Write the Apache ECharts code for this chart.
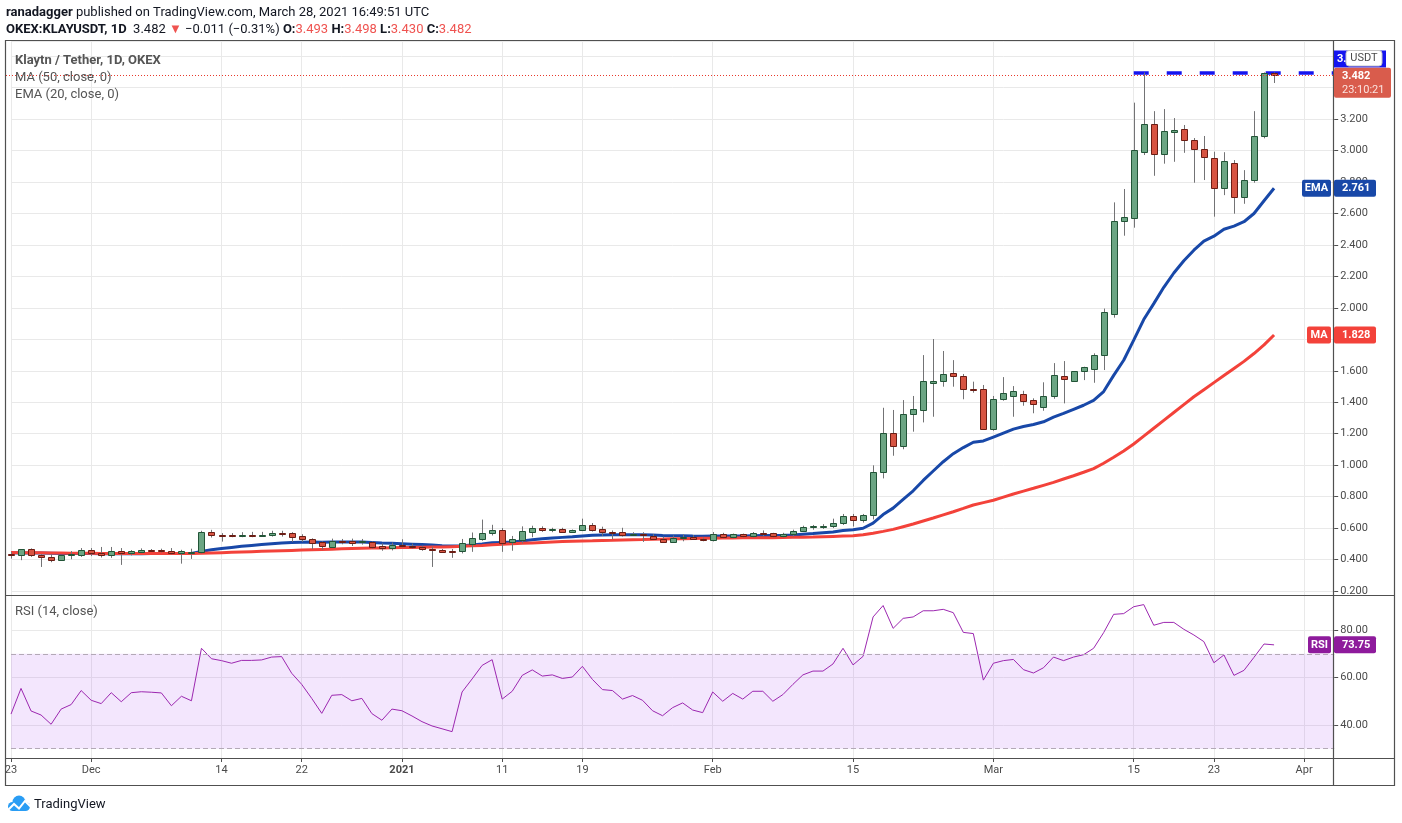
<!DOCTYPE html>
<html>
<head>
<meta charset="utf-8">
<title>KLAYUSDT 1D</title>
<script src="https://cdn.jsdelivr.net/npm/echarts/dist/echarts.min.js"></script>
<style>
  html, body { margin: 0; padding: 0; background: #fff; }
  #chart { width: 1402px; height: 823px; }
</style>
</head>
<body>
<div id="chart"></div>
<script>
// categories: one per day, Nov 23 2020 .. Apr 4 2021 (last candle is Mar 29)
const startDay = Date.UTC(2020, 10, 23);
const dates = [];
for (let i = 0; i < 133; i++) {
  dates.push(new Date(startDay + i * 86400000).toISOString().slice(0, 10));
}

// x axis labels
const tickDates = ['2020-11-23', '2020-12-01', '2020-12-14', '2020-12-22', '2021-01-01', '2021-01-11',
  '2021-01-19', '2021-02-01', '2021-02-15', '2021-03-01', '2021-03-15', '2021-03-23', '2021-04-01'];
const tickLabels = ['23', 'Dec', '14', '22', '2021', '11', '19', 'Feb', '15', 'Mar', '15', '23', 'Apr'];

// daily candles
const open = [
  .434, .426, .465, .428, .419, .398, .426, .430, .458, .441,
  .432, .452, .439, .449, .460, .460, .454, .439, .441, .445,
  .576, .557, .557, .549, .557, .555, .555, .568, .568, .548,
  .529, .512, .482, .516, .516, .512, .510, .484, .471, .490,
  .484, .477, .465, .460, .454, .456, .501, .533, .566, .587,
  .510, .527, .578, .600, .585, .594, .578, .585, .619, .594,
  .574, .574, .557, .563, .548, .531, .514, .535, .544, .531,
  .522, .560, .541, .560, .548, .569, .567, .548, .560, .580,
  .605, .610, .611, .630, .675, .649, .681, .955, 1.202, 1.120,
  1.323, 1.349, 1.520, 1.533, 1.584, 1.565, 1.482, 1.482, 1.228, 1.419,
  1.438, 1.450, 1.412, 1.368, 1.438, 1.565, 1.533, 1.597, 1.609, 1.698,
  1.959, 2.554, 2.573, 2.993, 3.169, 2.976, 3.120, 3.135, 3.065, 3.008,
  2.951, 2.760, 2.919, 2.703, 2.811, 3.091, 3.493
];
const close = [
  .426, .465, .426, .417, .398, .426, .437, .458, .439, .430,
  .452, .439, .452, .458, .454, .452, .439, .452, .450, .574,
  .555, .548, .548, .557, .553, .557, .570, .566, .546, .529,
  .508, .484, .516, .512, .508, .516, .482, .471, .490, .484,
  .477, .465, .458, .449, .445, .505, .535, .570, .587, .508,
  .529, .581, .600, .587, .594, .578, .587, .619, .591, .572,
  .568, .555, .563, .555, .529, .514, .535, .542, .529, .523,
  .560, .541, .560, .548, .567, .565, .548, .560, .580, .605,
  .611, .612, .630, .675, .649, .681, .955, 1.202, 1.120, 1.323,
  1.357, 1.533, 1.533, 1.580, 1.565, 1.482, 1.476, 1.228, 1.419, 1.457,
  1.469, 1.406, 1.387, 1.438, 1.571, 1.546, 1.597, 1.622, 1.698, 1.976,
  2.554, 2.575, 3.002, 3.169, 2.976, 3.124, 3.130, 3.065, 3.008, 2.957,
  2.760, 2.932, 2.703, 2.811, 3.091, 3.493, 3.482
];
const high = [
  .449, .465, .471, .434, .434, .430, .454, .473, .473, .480,
  .480, .473, .460, .471, .467, .469, .473, .462, .469, .583,
  .589, .568, .568, .574, .576, .576, .583, .583, .574, .561,
  .535, .516, .533, .531, .533, .531, .516, .503, .508, .529,
  .501, .488, .482, .467, .467, .531, .572, .654, .621, .600,
  .550, .611, .615, .611, .602, .602, .591, .660, .632, .609,
  .585, .602, .574, .574, .561, .546, .553, .559, .555, .540,
  .575, .570, .565, .565, .575, .585, .570, .570, .590, .615,
  .620, .625, .660, .690, .690, .690, .999, 1.365, 1.351, 1.414,
  1.440, 1.700, 1.802, 1.726, 1.668, 1.580, 1.531, 1.510, 1.440, 1.560,
  1.503, 1.473, 1.425, 1.527, 1.649, 1.662, 1.597, 1.626, 1.711, 1.996,
  2.671, 2.756, 3.305, 3.497, 3.251, 3.264, 3.207, 3.163, 3.080, 3.093,
  2.993, 2.990, 2.940, 2.876, 3.251, 3.497, 3.498
];
const low = [
  .406, .396, .417, .353, .383, .391, .402, .417, .422, .413,
  .411, .366, .426, .443, .449, .445, .432, .374, .404, .439,
  .540, .514, .542, .542, .542, .546, .546, .546, .512, .512,
  .467, .462, .482, .497, .486, .495, .469, .456, .458, .477,
  .469, .456, .353, .443, .411, .439, .449, .520, .553, .449,
  .456, .503, .542, .576, .574, .572, .570, .581, .578, .551,
  .529, .546, .553, .512, .525, .508, .508, .516, .525, .516,
  .515, .535, .535, .540, .540, .545, .540, .540, .545, .575,
  .590, .595, .600, .620, .610, .635, .655, .916, 1.060, 1.101,
  1.213, 1.272, 1.308, 1.499, 1.499, 1.419, 1.461, 1.228, 1.219, 1.410,
  1.308, 1.378, 1.330, 1.346, 1.422, 1.393, 1.533, 1.541, 1.524, 1.605,
  1.938, 2.459, 2.510, 2.972, 2.840, 2.917, 2.929, 2.986, 2.796, 2.813,
  2.580, 2.717, 2.599, 2.662, 2.796, 3.078, 3.430
];

// indicator lines as drawn on the chart
const ma50 = [
  .445, .444, .444, .443, .442, .441, .440, .440, .440, .439,
  .439, .439, .439, .439, .439, .439, .439, .439, .439, .440,
  .442, .444, .446, .448, .450, .452, .454, .456, .458, .460,
  .462, .464, .466, .468, .470, .472, .473, .474, .475, .476,
  .477, .478, .479, .480, .482, .484, .487, .490, .494, .497,
  .500, .503, .506, .509, .512, .514, .516, .518, .519, .521,
  .522, .524, .526, .527, .529, .530, .532, .533, .534, .535,
  .536, .537, .537, .538, .538, .539, .539, .540, .541, .542,
  .543, .545, .547, .549, .551, .557, .567, .579, .592, .609,
  .626, .645, .664, .684, .704, .725, .747, .762, .777, .797,
  .817, .835, .853, .872, .891, .912, .933, .955, .978, 1.012,
  1.050, 1.090, 1.135, 1.185, 1.235, 1.285, 1.335, 1.385, 1.435, 1.480,
  1.525, 1.570, 1.615, 1.660, 1.710, 1.765, 1.828
];
const ema20 = [
  .443, .442, .442, .441, .440, .439, .438, .438, .438, .437,
  .437, .437, .437, .437, .438, .438, .438, .438, .438, .452,
  .462, .470, .477, .484, .490, .495, .500, .505, .508, .510,
  .511, .510, .511, .511, .511, .512, .509, .505, .503, .501,
  .498, .495, .492, .488, .486, .487, .492, .499, .507, .509,
  .511, .518, .526, .532, .537, .541, .545, .550, .554, .556,
  .557, .558, .558, .558, .556, .553, .552, .551, .549, .548,
  .549, .549, .550, .550, .552, .553, .553, .554, .556, .561,
  .565, .570, .575, .584, .590, .599, .632, .686, .727, .783,
  .837, .903, .963, 1.022, 1.073, 1.112, 1.146, 1.154, 1.179, 1.204,
  1.229, 1.246, 1.259, 1.276, 1.305, 1.329, 1.355, 1.381, 1.412, 1.468,
  1.571, 1.667, 1.795, 1.926, 2.027, 2.131, 2.222, 2.300, 2.367, 2.425,
  2.456, 2.500, 2.520, 2.548, 2.600, 2.681, 2.761
];
const rsi = [
  44.6, 55.4, 45.9, 44.2, 40.3, 46.7, 48.6, 54.5, 50.4, 49.0,
  53.6, 49.8, 53.6, 54.0, 53.8, 53.5, 48.1, 52.1, 50.2, 72.3,
  67.9, 67.1, 66.0, 67.2, 67.2, 67.4, 68.6, 68.8, 61.8, 57.1,
  51.2, 44.9, 52.5, 52.8, 50.2, 51.2, 44.8, 42.0, 46.7, 46.0,
  43.8, 41.4, 39.6, 38.4, 37.2, 53.9, 59.4, 65.1, 67.5, 50.9,
  54.2, 60.9, 63.2, 60.6, 61.1, 59.6, 60.2, 64.7, 59.2, 54.9,
  54.5, 50.9, 52.4, 50.4, 46.0, 43.9, 47.3, 49.3, 46.3, 45.2,
  53.9, 50.0, 53.3, 50.9, 54.2, 54.2, 50.0, 52.8, 57.1, 61.1,
  62.7, 62.7, 65.7, 72.3, 65.3, 68.9, 85.5, 90.3, 80.7, 84.9,
  85.5, 88.1, 88.1, 88.7, 87.3, 79.0, 78.5, 58.9, 66.0, 67.1,
  67.6, 63.3, 61.9, 64.1, 68.6, 67.1, 68.6, 69.6, 72.3, 78.9,
  86.6, 86.9, 89.8, 90.7, 82.0, 83.2, 83.2, 80.3, 77.9, 75.1,
  66.2, 69.5, 60.9, 63.0, 68.5, 74.1, 73.75
];

// horizontal level drawn by the author, from Mar 15 onward
const resistance = 3.497;
const resistanceFrom = '2021-03-15';

const FONT = 'Roboto, "Noto Sans", sans-serif';
const TXT = '#4a4a4a';
const GRID = '#e9e9e9';
const FRAME = '#505050';
const UP_FILL = '#6ba583', UP_LINE = '#225437';
const DN_FILL = '#d75442', DN_LINE = '#6b1d14';
const WICK = '#737375';
const EMA_C = '#1848a8', MA_C = '#f3423a', RSI_C = '#9c27b0', LAST_C = '#d95c4c';

const tickMap = {};
tickDates.forEach((d, i) => { tickMap[d] = tickLabels[i]; });
const isTick = (idx, val) => tickMap[val] !== undefined;

const candles = open.map((o, i) => [i, o, close[i], low[i], high[i]]);

function renderCandle(params, api) {
  const idx = api.value(0);
  const pO = api.coord([idx, api.value(1)]);
  const pC = api.coord([idx, api.value(2)]);
  const pL = api.coord([idx, api.value(3)]);
  const pH = api.coord([idx, api.value(4)]);
  const x = Math.round(pO[0]);
  const up = api.value(2) >= api.value(1);
  const top = Math.round(Math.min(pO[1], pC[1]));
  const bot = Math.round(Math.max(pO[1], pC[1]));
  return {
    type: 'group',
    children: [
      { type: 'line', shape: { x1: x + 0.5, y1: pH[1], x2: x + 0.5, y2: pL[1] },
        style: { stroke: WICK, lineWidth: 1 } },
      { type: 'rect', shape: { x: x - 2.5, y: top + 0.5, width: 6, height: Math.max(bot - top, 1) },
        style: { fill: up ? UP_FILL : DN_FILL, stroke: up ? UP_LINE : DN_LINE, lineWidth: 1 } }
    ]
  };
}

const chart = echarts.init(document.getElementById('chart'));

const option = {
  animation: false,
  backgroundColor: '#fff',
  textStyle: { fontFamily: FONT },
  grid: [
    { left: 11, right: 67.8, top: 41, bottom: 228, outerBoundsMode: 'none' },
    { left: 11, right: 67.8, top: 595, bottom: 65, outerBoundsMode: 'none' }
  ],
  xAxis: [
    {
      gridIndex: 0, type: 'category', data: dates, boundaryGap: false,
      axisLine: { show: false }, axisTick: { show: false }, axisLabel: { show: false },
      splitLine: { show: true, interval: isTick, lineStyle: { color: GRID } }
    },
    {
      gridIndex: 1, type: 'category', data: dates, boundaryGap: false,
      axisLine: { show: false },
      axisTick: { show: true, interval: isTick, length: 4, lineStyle: { color: FRAME } },
      axisLabel: {
        show: true, interval: isTick, margin: 7, color: TXT, fontSize: 11, fontFamily: FONT,
        formatter: v => (tickMap[v] === '2021' ? '{b|2021}' : tickMap[v]),
        rich: { b: { fontWeight: 'bold', fontSize: 11, color: TXT, fontFamily: FONT } }
      },
      splitLine: { show: true, interval: isTick, lineStyle: { color: GRID } }
    }
  ],
  yAxis: [
    {
      gridIndex: 0, type: 'value', position: 'right', scale: true,
      min: 0.1746, max: 3.697, minInterval: 0.2, maxInterval: 0.2,
      axisLine: { show: false },
      axisTick: { show: true, length: 4, lineStyle: { color: FRAME } },
      axisLabel: { margin: 6, color: TXT, fontSize: 11, fontFamily: FONT,
        showMinLabel: false, showMaxLabel: false, formatter: v => v.toFixed(3) },
      splitLine: { show: true, lineStyle: { color: GRID } }
    },
    {
      gridIndex: 1, type: 'value', position: 'right', scale: true,
      min: 26.1, max: 94.74, minInterval: 20, maxInterval: 20,
      axisLine: { show: false },
      axisTick: { show: true, length: 4, lineStyle: { color: FRAME } },
      axisLabel: { margin: 6, color: TXT, fontSize: 11, fontFamily: FONT,
        showMinLabel: false, showMaxLabel: false, formatter: v => v.toFixed(2) },
      splitLine: { show: true, lineStyle: { color: GRID } }
    }
  ],
  series: [
    {
      name: 'EMA (20, close, 0)', type: 'line', xAxisIndex: 0, yAxisIndex: 0, data: ema20,
      showSymbol: false, z: 2, lineStyle: { color: EMA_C, width: 3 }, silent: true
    },
    {
      name: 'MA (50, close, 0)', type: 'line', xAxisIndex: 0, yAxisIndex: 0, data: ma50,
      showSymbol: false, z: 3, lineStyle: { color: MA_C, width: 3 }, silent: true,
      markLine: {
        silent: true, symbol: ['none', 'none'], label: { show: false },
        emphasis: { disabled: true },
        data: [
          [
            { coord: [resistanceFrom, resistance], lineStyle: { type: [15, 18], color: '#1414f0', width: 3.5, opacity: 1 } },
            { coord: [dates[dates.length - 1], resistance] }
          ]
        ]
      }
    },
    {
      name: 'KLAYUSDT', type: 'custom', xAxisIndex: 0, yAxisIndex: 0, z: 5, clip: false,
      renderItem: renderCandle, data: candles, encode: { x: 0, y: [1, 2, 3, 4] }, silent: true
    },
    {
      name: 'RSI (14, close)', type: 'line', xAxisIndex: 1, yAxisIndex: 1, data: rsi,
      showSymbol: false, z: 4, lineStyle: { color: RSI_C, width: 1 }, silent: true,
      markArea: {
        silent: true, itemStyle: { color: 'rgba(178, 98, 245, 0.16)' },
        data: [[{ yAxis: 30 }, { yAxis: 70 }]]
      },
      markLine: {
        silent: true, symbol: ['none', 'none'], label: { show: false },
        lineStyle: { type: [5, 3], color: '#b3a9b6', width: 1 },
        data: [{ yAxis: 70 }, { yAxis: 30 }]
      }
    }
  ]
};

chart.setOption(option);

// right-side value tags and the last-price line, placed with the axes' own scales
const last = close.length - 1;
const yOf = (axis, v) => chart.convertToPixel({ yAxisIndex: axis }, v);
const yPrice = yOf(0, close[last]);
const yEma = yOf(0, ema20[last]);
const yMa = yOf(0, ma50[last]);
const yRsi = yOf(1, rsi[last]);
const yRes = yOf(0, resistance);

function tag(name, value, y, color, nameLeft) {
  return [
    { type: 'rect', z: 110, shape: { x: nameLeft, y: y - 8.5, width: 1331 - nameLeft, height: 17, r: 2 }, style: { fill: color } },
    { type: 'text', z: 111, style: { text: name, x: (nameLeft + 1331) / 2, y: y, align: 'center', verticalAlign: 'middle',
      fill: '#fff', font: 'bold 11px ' + FONT } },
    { type: 'rect', z: 110, shape: { x: 1334, y: y - 8.5, width: 42, height: 17, r: 2 }, style: { fill: color } },
    { type: 'text', z: 111, style: { text: value, x: 1342, y: y, verticalAlign: 'middle',
      fill: '#fff', font: 'bold 11px ' + FONT } }
  ];
}

const chg = close[last] - close[last - 1];
const pct = chg / close[last - 1] * 100;
const sgn = chg < 0 ? '\u2212' : '+';
const f3 = v => v.toFixed(3);

const headRich = {
  b: { fontWeight: 'bold', fontSize: 13, fill: '#131722', fontFamily: FONT },
  n: { fontSize: 13, fill: '#131722', fontFamily: FONT },
  r: { fontSize: 13, fill: '#ef5350', fontFamily: FONT }
};

const yLastLine = Math.round(yPrice) + 0.5;

const graphics = [
  // last price dotted line
  { type: 'line', z: 90, silent: true, shape: { x1: 6, y1: yLastLine, x2: 1333, y2: yLastLine },
    style: { stroke: '#e8392c', lineWidth: 1, lineDash: [1, 2] } },
  // header
  { type: 'text', z: 120, style: { x: 6, y: 13, verticalAlign: 'middle', rich: headRich,
    text: '{b|ranadagger}{n| published on TradingView.com, March 28, 2021 16:49:51 UTC}' } },
  { type: 'text', z: 120, style: { x: 6, y: 30, verticalAlign: 'middle', rich: headRich,
    text: '{b|OKEX:KLAYUSDT, 1D}{n|  ' + f3(close[last]) + ' }{r|\u25BC}{n| ' + sgn + Math.abs(chg).toFixed(3) +
      ' (' + sgn + Math.abs(pct).toFixed(2) + '%) }{b|O:}{r|' + f3(open[last]) + '}{b| H:}{r|' + f3(high[last]) +
      '}{b| L:}{r|' + f3(low[last]) + '}{b| C:}{r|' + f3(close[last]) + '}' } },
  // legends
  { type: 'text', z: 120, style: { x: 15, y: 61, verticalAlign: 'middle', text: 'Klaytn / Tether, 1D, OKEX',
    fill: '#555', font: 'bold 13px ' + FONT } },
  { type: 'text', z: 120, style: { x: 15, y: 78, verticalAlign: 'middle', text: 'MA (50, close, 0)',
    fill: '#555', font: '13px ' + FONT } },
  { type: 'text', z: 120, style: { x: 15, y: 95, verticalAlign: 'middle', text: 'EMA (20, close, 0)',
    fill: '#555', font: '13px ' + FONT } },
  { type: 'text', z: 120, style: { x: 15, y: 612, verticalAlign: 'middle', text: 'RSI (14, close)',
    fill: '#555', font: '13px ' + FONT } },
  // frame
  { type: 'rect', z: 100, silent: true, shape: { x: 5.5, y: 40.5, width: 1389, height: 745 },
    style: { fill: null, stroke: FRAME, lineWidth: 1.2 } },
  { type: 'line', z: 100, silent: true, shape: { x1: 5.5, y1: 595.5, x2: 1394.5, y2: 595.5 }, style: { stroke: FRAME, lineWidth: 1.2 } },
  { type: 'line', z: 100, silent: true, shape: { x1: 5.5, y1: 758.5, x2: 1394.5, y2: 758.5 }, style: { stroke: FRAME, lineWidth: 1.2 } },
  { type: 'line', z: 100, silent: true, shape: { x1: 1333.5, y1: 40.5, x2: 1333.5, y2: 785.5 }, style: { stroke: FRAME, lineWidth: 1.2 } },
  // resistance price tag (mostly covered), USDT box, last price box
  { type: 'rect', z: 105, shape: { x: 1334, y: yRes - 22, width: 52, height: 17 }, style: { fill: '#1414f0' } },
  { type: 'text', z: 106, style: { x: 1337, y: yRes - 13.5, verticalAlign: 'middle', text: f3(resistance),
    fill: '#fff', font: 'bold 11px ' + FONT } },
  { type: 'rect', z: 107, shape: { x: 1346, y: 50.5, width: 36, height: 15.5, r: 3 },
    style: { fill: '#fff', stroke: '#c4c4c4', lineWidth: 1 } },
  { type: 'text', z: 108, style: { x: 1364, y: 58.5, align: 'center', verticalAlign: 'middle', text: 'USDT',
    fill: TXT, font: '11px ' + FONT } },
  { type: 'rect', z: 109, shape: { x: 1334, y: yPrice - 7, width: 57, height: 30, r: 2 }, style: { fill: LAST_C } },
  { type: 'text', z: 110, style: { x: 1342, y: yPrice + 1.5, verticalAlign: 'middle', text: f3(close[last]),
    fill: '#fff', font: 'bold 11px ' + FONT } },
  { type: 'text', z: 110, style: { x: 1342, y: yPrice + 15.5, verticalAlign: 'middle', text: '23:10:21',
    fill: '#fbe3df', font: '11px ' + FONT } },
  // TradingView mark
  { type: 'circle', z: 120, shape: { cx: 19, cy: 802, r: 6.5 }, style: { fill: '#2a9df4' } },
  { type: 'circle', z: 120, shape: { cx: 12.5, cy: 806.5, r: 4.5 }, style: { fill: '#2a9df4' } },
  { type: 'circle', z: 120, shape: { cx: 25.5, cy: 806.5, r: 4.5 }, style: { fill: '#2a9df4' } },
  { type: 'rect', z: 120, shape: { x: 12, y: 805, width: 14, height: 6 }, style: { fill: '#2a9df4' } },
  { type: 'polyline', z: 121, shape: { points: [[8, 810], [14, 804], [19, 808.5], [25, 801], [31, 807]] },
    style: { stroke: '#fff', lineWidth: 2, fill: null } },
  { type: 'text', z: 120, style: { x: 34, y: 804.5, verticalAlign: 'middle', text: 'TradingView',
    fill: '#131722', font: '13px ' + FONT } }
]
  .concat(tag('EMA', f3(ema20[last]), yEma, EMA_C, 1302))
  .concat(tag('MA', f3(ma50[last]), yMa, MA_C, 1307))
  .concat(tag('RSI', rsi[last].toFixed(2), yRsi, '#8e1b9c', 1308));

chart.setOption({ graphic: graphics });
</script>
</body>
</html>
